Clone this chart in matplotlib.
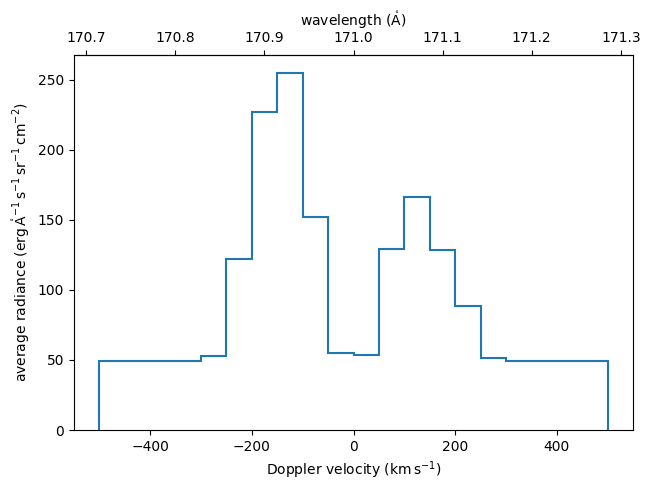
import numpy as np
import matplotlib
matplotlib.use('Agg')
import matplotlib.pyplot as plt

# bin edges in Doppler velocity (km/s) and the average radiance per bin
edges = [-500, -300, -250, -200, -150, -100, -50, 0, 50, 100, 150, 200, 250, 300, 500]
radiance = [49.1, 52.9, 121.9, 226.9, 254.8, 151.9, 55.0, 53.6,
            129.0, 166.4, 128.3, 88.3, 51.2, 49.0]

# rest wavelength (Angstrom) used for the top axis
lam0 = 171.0
c_kms = 299792.458


def vel_to_wav(v):
    return lam0 * (1 + np.asarray(v) / c_kms)


def wav_to_vel(w):
    return (np.asarray(w) / lam0 - 1) * c_kms


fig = plt.figure(figsize=(6.51, 4.91), dpi=100)
ax = fig.add_axes([74 / 651, 61 / 491, 559 / 651, 375 / 491])

ax.stairs(radiance, edges, baseline=0, linewidth=1.5)
ax.set_xlabel(r'Doppler velocity ($\mathrm{km\,s^{-1}}$)')
ax.set_ylabel(r'average radiance ($\mathrm{erg\,\mathring{A}^{-1}\,s^{-1}\,sr^{-1}\,cm^{-2}}$)')

top = ax.secondary_xaxis('top', functions=(vel_to_wav, wav_to_vel))
top.set_xlabel(r'wavelength ($\mathrm{\mathring{A}}$)')

fig.savefig('out.png', dpi=100)
